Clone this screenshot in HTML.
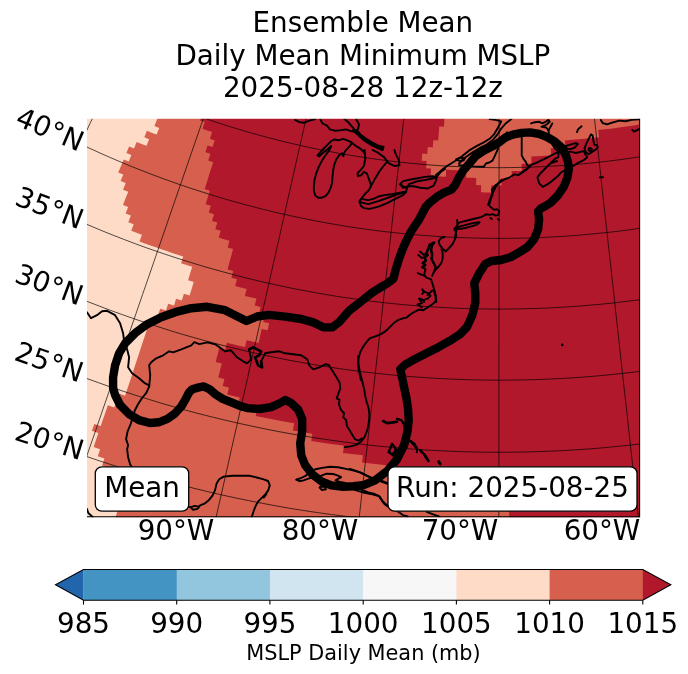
<!DOCTYPE html>
<html lang="en"><head><meta charset="utf-8"><title>Ensemble Mean Daily Mean Minimum MSLP</title>
<style>
html,body{margin:0;padding:0;background:#fff;}
body{width:688px;height:674px;overflow:hidden;}
svg{display:block;}
svg text{font-family:"DejaVu Sans","Liberation Sans",sans-serif;fill:#000;}
</style></head><body>
<svg width="688" height="674" viewBox="0 0 688 674">
<rect width="688" height="674" fill="#fff"/>
<defs><clipPath id="mapclip"><rect x="84" y="115.7" width="559" height="404.50000000000006"/></clipPath></defs>
<g clip-path="url(#mapclip)">
<rect x="85" y="116.7" width="557" height="402.50000000000006" fill="#b2182b"/>
<path d="M-129.7,440.1 -126.1,433.4 -122.5,426.7 -119.0,420.0 -115.4,413.3 -111.8,406.6 -108.3,400.0 -104.8,393.3 -101.2,386.7 -97.7,380.1 -94.2,373.6 -90.7,367.0 -87.2,360.5 -83.8,354.0 -80.3,347.4 -76.8,341.0 -73.4,334.5 -69.9,328.0 -66.5,321.6 -63.1,315.2 -59.6,308.7 -56.2,302.3 -52.8,295.9 -49.4,289.6 -46.0,283.2 -42.6,276.8 -39.2,270.5 -35.9,264.2 -32.5,257.8 -29.1,251.5 -25.8,245.2 -22.4,238.9 -19.0,232.6 -15.7,226.3 -12.3,220.0 -9.0,213.8 -5.6,207.5 -2.3,201.2 1.0,195.0 4.4,188.7 7.7,182.5 11.0,176.2 14.4,170.0 17.7,163.8 21.0,157.5 24.3,151.3 27.7,145.1 31.0,138.8 34.3,132.6 37.6,126.4 40.9,120.1 44.3,113.9 47.6,107.7 50.9,101.4 54.2,95.2 57.6,89.0 60.9,82.7 64.2,76.5 67.6,70.2 70.9,64.0 74.2,57.7 77.6,51.4 80.9,45.2 84.3,38.9 87.6,32.6 91.0,26.3 94.4,20.0 97.7,13.7 101.1,7.3 104.5,1.0 107.9,-5.3 111.3,-11.7 114.7,-18.1 118.6,-15.9 122.7,-13.9 126.7,-11.8 130.7,-9.7 134.8,-7.7 138.8,-5.7 142.9,-3.7 147.0,-1.7 151.0,0.2 155.1,2.1 159.2,4.0 163.4,5.9 167.5,7.7 171.6,9.5 175.8,11.4 179.9,13.1 184.1,14.9 188.3,16.6 192.5,18.3 196.7,20.0 200.9,21.7 205.1,23.3 202.5,30.1 199.9,36.8 204.2,38.4 201.6,45.2 206.0,46.8 203.5,53.5 201.0,60.2 205.4,61.9 202.9,68.6 200.5,75.3 205.0,76.9 202.6,83.7 200.1,90.4 204.7,92.0 202.4,98.7 200.0,105.4 204.7,107.1 202.3,113.8 200.0,120.5 204.8,122.1 202.5,128.8 207.3,130.5 212.1,132.1 209.9,138.8 214.7,140.4 212.5,147.1 207.6,145.5 205.4,152.2 210.4,153.8 208.2,160.6 213.2,162.2 211.0,168.9 208.9,175.6 206.8,182.4 204.6,189.1 209.8,190.7 207.7,197.5 205.6,204.2 210.8,205.8 208.7,212.6 214.0,214.2 212.0,220.9 217.3,222.5 215.3,229.3 220.7,230.8 218.7,237.6 224.1,239.2 229.5,240.7 227.7,247.5 233.1,249.0 231.3,255.8 229.4,262.6 227.6,269.5 233.2,271.0 231.4,277.8 237.0,279.3 235.2,286.1 240.9,287.6 246.6,289.0 244.9,295.9 250.6,297.3 256.4,298.6 254.8,305.5 260.5,306.9 259.0,313.8 264.8,315.1 263.2,322.1 269.1,323.3 267.6,330.3 261.7,329.0 260.1,336.0 258.6,342.9 252.6,341.6 246.6,340.2 245.0,347.1 239.0,345.7 233.0,344.3 227.0,342.8 225.3,349.7 219.2,348.2 217.5,355.1 215.7,362.0 221.8,363.6 220.0,370.6 218.3,377.5 224.4,379.1 222.7,386.1 228.9,387.6 227.3,394.6 233.5,396.1 239.8,397.5 238.2,404.6 244.5,406.0 250.9,407.4 257.2,408.8 255.7,415.9 262.1,417.2 268.5,418.5 274.9,419.8 281.3,421.0 287.8,422.2 294.2,423.3 292.9,430.5 299.4,431.6 305.9,432.7 312.4,433.7 311.2,440.9 317.8,441.9 324.3,442.9 330.8,443.9 337.4,444.8 343.9,445.7 343.0,452.9 349.6,453.8 356.2,454.6 362.8,455.3 362.0,462.6 368.6,463.3 375.3,464.0 381.9,464.7 388.6,465.4 395.3,465.9 394.6,473.2 401.3,473.8 408.0,474.3 414.8,474.8 414.2,482.1 421.0,482.6 427.8,483.0 434.5,483.4 441.3,483.7 448.1,484.0 454.8,484.3 454.5,491.6 461.4,491.9 468.2,492.1 475.0,492.2 481.8,492.3 488.6,492.4 488.5,499.8 495.4,499.8 502.2,499.9 509.1,499.8 509.2,507.2 509.2,514.6 509.3,522.0 509.3,529.5 509.4,537.0 509.4,544.4 509.5,552.0 509.5,559.5 509.6,567.0 509.7,574.6 509.7,582.2 509.8,589.8 509.8,597.5 509.9,605.2 509.9,612.9 510.0,620.6 510.1,628.4 510.1,636.1 510.2,644.0 510.2,651.8 510.3,659.7 510.4,667.6 510.4,675.5 510.5,683.5 502.6,683.5 494.7,683.5 486.9,683.5 479.0,683.4 471.1,683.2 463.3,683.1 455.4,682.8 447.5,682.6 439.7,682.3 431.8,681.9 423.9,681.5 416.1,681.1 408.2,680.6 400.4,680.0 392.5,679.5 384.7,678.9 376.8,678.2 369.0,677.5 361.2,676.8 353.3,676.0 345.5,675.1 337.7,674.3 329.9,673.3 322.1,672.4 314.3,671.4 306.5,670.3 298.7,669.2 290.9,668.1 283.1,666.9 275.3,665.7 267.6,664.5 259.8,663.1 252.1,661.8 244.3,660.4 236.6,659.0 228.8,657.5 221.1,656.0 213.4,654.4 205.7,652.8 198.0,651.2 190.3,649.5 182.6,647.7 175.0,646.0 167.3,644.2 159.7,642.3 152.0,640.4 144.4,638.4 136.8,636.5 129.2,634.4 121.6,632.4 114.0,630.3 106.5,628.1 98.9,625.9 91.4,623.7 83.8,621.4 76.3,619.1 68.8,616.7 61.3,614.3 53.8,611.9 46.4,609.4 38.9,606.8 31.5,604.3 24.0,601.7 16.6,599.0 9.2,596.3 1.9,593.6 -5.5,590.8 -12.9,588.0 -20.2,585.2 -27.5,582.3 -34.8,579.3 -42.1,576.4 -49.4,573.3 -56.6,570.3 -63.9,567.2 -71.1,564.1 -78.3,560.9 -85.5,557.7 -92.6,554.4 -99.8,551.1 -106.9,547.8 -114.0,544.4 -121.1,541.0 -128.2,537.5 -135.2,534.1 -142.3,530.5 -149.3,527.0 -156.3,523.3 -163.2,519.7 -170.2,516.0 -166.4,509.0 -162.7,502.0 -159.0,495.0 -155.3,488.1 -151.6,481.1 -147.9,474.2 -144.2,467.4 -140.6,460.5 -137.0,453.7 -133.3,446.9ZM421.7,160.7 422.3,153.6 427.3,154.1 427.8,147.0 432.8,147.4 433.3,140.3 438.2,140.6 438.7,133.5 439.2,126.4 443.9,126.7 444.4,119.6 444.9,112.4 445.3,105.3 445.8,98.1 446.3,90.9 446.7,83.7 442.2,83.4 442.7,76.2 447.2,76.5 451.7,76.8 456.2,77.1 460.7,77.3 465.3,77.5 469.8,77.7 474.3,77.8 478.8,78.0 483.3,78.1 487.9,78.1 492.4,78.2 496.9,78.2 501.4,78.2 506.0,78.2 510.5,78.2 515.0,78.1 519.5,78.0 524.0,77.9 528.6,77.7 533.1,77.6 537.6,77.4 542.1,77.1 546.6,76.9 551.2,76.6 555.7,76.3 560.2,76.0 564.7,75.7 569.2,75.3 573.7,74.9 578.2,74.5 582.7,74.0 587.2,73.6 591.7,73.1 596.2,72.5 600.7,72.0 605.2,71.4 609.7,70.8 614.2,70.2 618.6,69.6 623.1,68.9 627.6,68.2 632.0,67.5 636.5,66.7 641.0,66.0 645.4,65.2 649.9,64.4 654.3,63.5 655.7,70.6 657.0,77.7 658.4,84.8 659.8,91.8 661.1,98.8 662.5,105.9 663.8,112.9 665.2,119.9 666.5,126.9 661.7,127.8 660.4,120.8 655.6,121.7 650.9,122.5 646.1,123.3 641.3,124.1 636.5,124.9 631.8,125.7 627.0,126.4 622.2,127.1 617.4,127.7 612.6,128.4 607.8,129.0 603.0,129.6 598.2,130.1 599.0,137.2 594.1,137.7 589.3,138.2 584.4,138.7 579.5,139.2 574.7,139.6 569.8,140.0 564.9,140.4 565.5,147.5 560.6,147.8 555.7,148.1 550.7,148.4 551.2,155.5 546.2,155.8 541.2,156.0 536.3,156.3 531.3,156.4 531.6,163.5 526.6,163.7 521.6,163.8 521.8,170.9 516.7,171.0 511.7,171.1 511.8,178.2 506.7,178.3 501.6,178.3 501.6,185.4 496.5,185.4 491.4,185.3 491.3,192.4 486.2,192.4 481.0,192.3 481.2,185.2 476.1,185.1 476.2,178.0 471.2,177.8 466.1,177.7 466.4,170.6 461.3,170.4 456.3,170.2 451.3,169.9 446.2,169.6 445.8,176.7 440.7,176.4 435.7,176.0 430.6,175.7 431.1,168.6 426.1,168.2 426.7,161.1Z" fill="#d6604d" fill-rule="evenodd"/>
<path d="M-133.3,446.9 -129.7,440.1 -126.1,433.4 -122.5,426.7 -119.0,420.0 -115.4,413.3 -111.8,406.6 -108.3,400.0 -104.8,393.3 -101.2,386.7 -97.7,380.1 -94.2,373.6 -90.7,367.0 -87.2,360.5 -83.8,354.0 -80.3,347.4 -76.8,341.0 -73.4,334.5 -69.9,328.0 -66.5,321.6 -63.1,315.2 -59.6,308.7 -56.2,302.3 -52.8,295.9 -49.4,289.6 -46.0,283.2 -42.6,276.8 -39.2,270.5 -35.9,264.2 -32.5,257.8 -29.1,251.5 -25.8,245.2 -22.4,238.9 -19.0,232.6 -15.7,226.3 -12.3,220.0 -9.0,213.8 -5.6,207.5 -2.3,201.2 1.0,195.0 4.4,188.7 7.7,182.5 11.0,176.2 14.4,170.0 17.7,163.8 21.0,157.5 24.3,151.3 27.7,145.1 31.0,138.8 34.3,132.6 37.6,126.4 40.9,120.1 44.3,113.9 47.6,107.7 50.9,101.4 54.2,95.2 57.6,89.0 60.9,82.7 64.2,76.5 67.6,70.2 70.9,64.0 74.2,57.7 77.6,51.4 80.9,45.2 84.3,38.9 87.6,32.6 91.0,26.3 94.4,20.0 97.7,13.7 101.1,7.3 104.5,1.0 107.9,-5.3 111.3,-11.7 114.7,-18.1 118.6,-15.9 122.7,-13.9 126.7,-11.8 130.7,-9.7 134.8,-7.7 138.8,-5.7 142.9,-3.7 147.0,-1.7 151.0,0.2 155.1,2.1 159.2,4.0 156.2,10.6 160.4,12.5 157.4,19.0 154.5,25.6 158.7,27.5 155.8,34.0 160.1,35.9 157.2,42.5 154.3,49.1 158.7,51.0 155.9,57.5 160.3,59.4 157.5,66.0 154.7,72.5 159.2,74.4 156.5,81.0 153.7,87.6 158.3,89.5 155.6,96.0 160.2,97.9 157.6,104.5 154.9,111.1 159.6,113.0 157.0,119.5 154.4,126.1 159.2,128.0 156.6,134.6 151.7,132.7 146.9,130.8 144.3,137.3 149.1,139.3 146.5,145.8 141.6,143.9 136.7,141.9 134.0,148.4 129.1,146.4 126.4,152.9 131.4,154.9 128.7,161.5 123.7,159.4 121.0,165.9 118.2,172.4 123.3,174.5 120.6,181.1 125.7,183.1 123.1,189.7 128.2,191.7 125.6,198.3 123.0,204.9 128.2,206.9 125.6,213.5 130.9,215.6 128.3,222.2 133.7,224.2 131.2,230.8 136.5,232.8 141.9,234.8 139.5,241.5 144.9,243.4 150.4,245.4 155.8,247.3 161.3,249.2 166.7,251.1 172.2,252.9 177.7,254.7 183.2,256.4 181.1,263.2 186.6,264.9 192.2,266.7 190.1,273.4 188.1,280.2 193.7,281.9 191.7,288.7 189.6,295.5 183.9,293.8 181.8,300.6 176.1,298.8 174.0,305.6 168.2,303.8 166.0,310.6 160.2,308.7 158.0,315.5 155.8,322.3 150.0,320.4 147.7,327.2 145.5,334.0 143.2,340.8 141.0,347.6 138.7,354.4 136.5,361.3 134.2,368.1 132.0,375.0 129.7,381.9 127.4,388.8 125.1,395.7 118.9,393.6 116.5,400.5 114.2,407.4 107.9,405.3 105.5,412.2 103.1,419.1 100.7,426.1 94.3,423.9 91.9,430.8 98.4,433.1 96.0,440.1 93.6,447.1 100.1,449.3 97.8,456.3 104.4,458.5 102.1,465.6 108.7,467.8 115.4,469.9 113.2,477.0 119.9,479.2 117.7,486.3 115.4,493.5 113.2,500.7 120.1,502.8 117.8,510.0 115.6,517.3 113.4,524.5 120.4,526.7 118.2,534.0 116.0,541.3 113.8,548.6 120.9,550.8 118.8,558.1 116.6,565.6 114.4,573.0 112.2,580.5 119.5,582.6 117.4,590.1 115.2,597.7 113.0,605.2 120.5,607.3 118.3,614.9 116.2,622.6 114.0,630.3 106.5,628.1 98.9,625.9 91.4,623.7 83.8,621.4 76.3,619.1 68.8,616.7 61.3,614.3 53.8,611.9 46.4,609.4 38.9,606.8 31.5,604.3 24.0,601.7 16.6,599.0 9.2,596.3 1.9,593.6 -5.5,590.8 -12.9,588.0 -20.2,585.2 -27.5,582.3 -34.8,579.3 -42.1,576.4 -49.4,573.3 -56.6,570.3 -63.9,567.2 -71.1,564.1 -78.3,560.9 -85.5,557.7 -92.6,554.4 -99.8,551.1 -106.9,547.8 -114.0,544.4 -121.1,541.0 -128.2,537.5 -135.2,534.1 -142.3,530.5 -149.3,527.0 -156.3,523.3 -163.2,519.7 -170.2,516.0 -166.4,509.0 -162.7,502.0 -159.0,495.0 -155.3,488.1 -151.6,481.1 -147.9,474.2 -144.2,467.4 -140.6,460.5 -137.0,453.7Z" fill="#fddbc7" fill-rule="evenodd"/>

<g fill="none" stroke="#000" stroke-opacity="0.68" stroke-width="1.0">
<path d="M-143.6,616.1 L-133.6,595.0 L-123.8,574.2 L-114.0,553.6 L-104.4,533.3 L-94.8,513.2 L-85.4,493.3 L-76.1,473.6 L-66.8,454.2 L-57.7,434.8 L-48.6,415.7 L-39.6,396.7 L-30.6,377.8 L-21.7,359.1 L-12.9,340.5 L-4.1,322.0 L4.6,303.6 L13.3,285.3 L21.9,267.1 L30.6,248.9 L39.1,230.8 L47.7,212.7 L56.3,194.7 L64.8,176.6 L73.4,158.7 L81.9,140.7 L90.4,122.7 L99.0,104.6 L107.5,86.6 L116.1,68.5 L124.7,50.4 L133.4,32.1 L142.1,13.8 L150.8,-4.5 L159.6,-23.0 L168.4,-41.7 L177.3,-60.4 L186.3,-79.4 L195.3,-98.5 L204.5,-117.8"/>
<path d="M9.9,678.8 L17.5,656.7 L25.0,634.9 L32.5,613.4 L39.8,592.2 L47.1,571.1 L54.2,550.4 L61.3,529.8 L68.4,509.4 L75.4,489.2 L82.3,469.1 L89.1,449.3 L96.0,429.5 L102.7,409.9 L109.4,390.5 L116.1,371.1 L122.8,351.9 L129.4,332.7 L136.0,313.6 L142.5,294.6 L149.1,275.7 L155.6,256.8 L162.1,237.9 L168.6,219.0 L175.1,200.2 L181.6,181.4 L188.1,162.6 L194.6,143.7 L201.2,124.8 L207.7,105.9 L214.2,86.9 L220.8,67.9 L227.4,48.7 L234.1,29.5 L240.8,10.1 L247.5,-9.4 L254.3,-29.0 L261.1,-48.8 L268.0,-68.8 L275.0,-89.0"/>
<path d="M169.4,724.2 L174.6,701.4 L179.6,678.9 L184.7,656.7 L189.6,634.8 L194.5,613.1 L199.3,591.6 L204.1,570.4 L208.9,549.3 L213.6,528.5 L218.2,507.8 L222.9,487.3 L227.5,467.0 L232.0,446.7 L236.6,426.6 L241.1,406.7 L245.6,386.8 L250.0,367.0 L254.5,347.3 L258.9,327.7 L263.3,308.2 L267.7,288.6 L272.1,269.2 L276.5,249.7 L280.9,230.3 L285.2,210.9 L289.6,191.4 L294.0,172.0 L298.4,152.5 L302.8,133.0 L307.2,113.4 L311.7,93.7 L316.1,73.9 L320.6,54.1 L325.1,34.1 L329.7,14.0 L334.2,-6.2 L338.8,-26.7 L343.5,-47.3 L348.2,-68.1"/>
<path d="M333.0,751.7 L335.6,728.5 L338.2,705.6 L340.7,683.0 L343.2,660.6 L345.7,638.5 L348.1,616.7 L350.5,595.0 L352.9,573.6 L355.3,552.3 L357.6,531.3 L360.0,510.4 L362.3,489.6 L364.6,469.0 L366.9,448.6 L369.2,428.2 L371.4,408.0 L373.7,387.8 L375.9,367.8 L378.2,347.8 L380.4,327.9 L382.6,308.0 L384.8,288.1 L387.1,268.3 L389.3,248.5 L391.5,228.7 L393.7,208.9 L395.9,189.1 L398.1,169.3 L400.4,149.4 L402.6,129.4 L404.8,109.4 L407.1,89.2 L409.3,69.0 L411.6,48.7 L413.9,28.2 L416.2,7.5 L418.5,-13.3 L420.9,-34.3 L423.3,-55.5"/>
<path d="M498.6,761.0 L498.6,737.6 L498.6,714.6 L498.7,691.8 L498.7,669.3 L498.7,647.1 L498.7,625.1 L498.7,603.3 L498.8,581.8 L498.8,560.4 L498.8,539.2 L498.8,518.2 L498.8,497.3 L498.8,476.6 L498.9,456.0 L498.9,435.5 L498.9,415.1 L498.9,394.9 L498.9,374.7 L498.9,354.6 L499.0,334.5 L499.0,314.5 L499.0,294.5 L499.0,274.6 L499.0,254.7 L499.0,234.8 L499.1,214.9 L499.1,194.9 L499.1,174.9 L499.1,154.9 L499.1,134.8 L499.1,114.7 L499.2,94.4 L499.2,74.1 L499.2,53.6 L499.2,33.0 L499.2,12.2 L499.2,-8.7 L499.3,-29.9 L499.3,-51.2"/>
<path d="M664.2,751.9 L661.7,728.7 L659.1,705.8 L656.7,683.2 L654.2,660.9 L651.8,638.8 L649.3,616.9 L647.0,595.3 L644.6,573.8 L642.3,552.6 L639.9,531.5 L637.6,510.6 L635.4,489.9 L633.1,469.3 L630.8,448.8 L628.6,428.4 L626.4,408.2 L624.1,388.0 L621.9,368.0 L619.7,348.0 L617.5,328.0 L615.3,308.2 L613.2,288.3 L611.0,268.5 L608.8,248.7 L606.6,228.9 L604.4,209.1 L602.2,189.3 L600.1,169.4 L597.9,149.5 L595.7,129.6 L593.5,109.5 L591.2,89.4 L589.0,69.2 L586.8,48.8 L584.5,28.3 L582.2,7.7 L579.9,-13.1 L577.6,-34.2 L575.3,-55.4"/>
<path d="M827.8,724.7 L822.7,701.9 L817.7,679.4 L812.7,657.2 L807.8,635.3 L803.0,613.6 L798.2,592.1 L793.4,570.9 L788.7,549.8 L784.0,529.0 L779.4,508.3 L774.8,487.8 L770.2,467.4 L765.7,447.2 L761.2,427.1 L756.7,407.1 L752.3,387.2 L747.8,367.4 L743.4,347.7 L739.0,328.1 L734.7,308.5 L730.3,289.0 L725.9,269.5 L721.6,250.1 L717.2,230.7 L712.9,211.2 L708.5,191.8 L704.2,172.3 L699.8,152.8 L695.4,133.3 L691.0,113.7 L686.6,94.0 L682.2,74.3 L677.8,54.4 L673.3,34.4 L668.8,14.3 L664.3,-6.0 L659.7,-26.4 L655.1,-47.0 L650.4,-67.9"/>
<path d="M-246.5,467.5 L-233.1,475.7 L-219.7,483.7 L-206.1,491.6 L-192.4,499.3 L-178.7,506.9 L-164.8,514.3 L-150.9,521.6 L-137.0,528.7 L-122.9,535.7 L-108.7,542.5 L-94.5,549.1 L-80.2,555.6 L-65.9,562.0 L-51.4,568.1 L-37.0,574.2 L-22.4,580.0 L-7.8,585.7 L6.9,591.2 L21.7,596.6 L36.5,601.8 L51.3,606.8 L66.3,611.7 L81.2,616.4 L96.3,621.0 L111.3,625.3 L126.4,629.6 L141.6,633.6 L156.8,637.5 L172.1,641.2 L187.4,644.7 L202.7,648.1 L218.1,651.3 L233.5,654.3 L248.9,657.2 L264.3,659.9 L279.8,662.4 L295.4,664.7 L310.9,666.9 L326.5,668.9 L342.1,670.7 L357.7,672.4 L373.3,673.9 L388.9,675.2 L404.6,676.3 L420.2,677.3 L435.9,678.1 L451.6,678.7 L467.3,679.2 L483.0,679.4 L498.7,679.5 L514.4,679.5 L530.1,679.2 L545.7,678.8 L561.4,678.2 L577.1,677.4 L592.8,676.5 L608.4,675.4 L624.1,674.1 L639.7,672.6 L655.3,671.0 L670.9,669.2 L686.5,667.2 L702.0,665.1 L717.5,662.8 L733.0,660.3 L748.5,657.6 L763.9,654.8 L779.3,651.8 L794.7,648.6 L810.0,645.2 L825.3,641.7 L840.6,638.0 L855.8,634.2 L871.0,630.2 L886.1,626.0 L901.2,621.6 L916.2,617.1 L931.2,612.4 L946.1,607.6 L961.0,602.6"/>
<path d="M-205.4,401.0 L-192.8,408.8 L-180.0,416.3 L-167.2,423.8 L-154.3,431.1 L-141.3,438.2 L-128.3,445.3 L-115.1,452.1 L-101.9,458.9 L-88.6,465.4 L-75.2,471.9 L-61.8,478.1 L-48.3,484.3 L-34.7,490.3 L-21.1,496.1 L-7.4,501.8 L6.4,507.3 L20.2,512.7 L34.1,517.9 L48.0,523.0 L62.0,527.9 L76.0,532.7 L90.1,537.3 L104.3,541.7 L118.5,546.0 L132.7,550.2 L147.0,554.1 L161.3,558.0 L175.7,561.6 L190.1,565.1 L204.6,568.5 L219.0,571.7 L233.6,574.7 L248.1,577.5 L262.7,580.2 L277.3,582.8 L292.0,585.2 L306.6,587.4 L321.3,589.4 L336.0,591.3 L350.7,593.1 L365.5,594.6 L380.3,596.0 L395.0,597.3 L409.8,598.3 L424.6,599.3 L439.4,600.0 L454.3,600.6 L469.1,601.0 L483.9,601.3 L498.7,601.4 L513.6,601.3 L528.4,601.1 L543.2,600.7 L558.0,600.1 L572.9,599.4 L587.7,598.5 L602.4,597.4 L617.2,596.2 L632.0,594.8 L646.7,593.3 L661.5,591.6 L676.2,589.7 L690.9,587.7 L705.5,585.5 L720.2,583.1 L734.8,580.6 L749.4,578.0 L763.9,575.1 L778.5,572.1 L793.0,569.0 L807.4,565.6 L821.8,562.2 L836.2,558.5 L850.5,554.7 L864.8,550.8 L879.1,546.7 L893.3,542.4 L907.4,538.0 L921.5,533.4 L935.6,528.6"/>
<path d="M-165.7,336.7 L-153.8,344.0 L-141.7,351.2 L-129.6,358.2 L-117.5,365.1 L-105.2,371.9 L-92.9,378.5 L-80.5,385.0 L-68.0,391.3 L-55.5,397.5 L-42.8,403.6 L-30.2,409.5 L-17.4,415.3 L-4.6,421.0 L8.2,426.5 L21.2,431.8 L34.2,437.0 L47.2,442.1 L60.3,447.0 L73.4,451.8 L86.7,456.5 L99.9,461.0 L113.2,465.3 L126.6,469.5 L140.0,473.6 L153.4,477.5 L166.9,481.2 L180.4,484.8 L194.0,488.3 L207.6,491.6 L221.2,494.8 L234.9,497.8 L248.6,500.6 L262.3,503.3 L276.1,505.9 L289.8,508.3 L303.7,510.5 L317.5,512.6 L331.4,514.5 L345.2,516.3 L359.1,518.0 L373.1,519.4 L387.0,520.8 L400.9,521.9 L414.9,522.9 L428.9,523.8 L442.8,524.5 L456.8,525.1 L470.8,525.5 L484.8,525.7 L498.8,525.8 L512.8,525.7 L526.8,525.5 L540.8,525.1 L554.8,524.6 L568.7,523.9 L582.7,523.1 L596.7,522.1 L610.6,520.9 L624.6,519.6 L638.5,518.2 L652.4,516.6 L666.3,514.8 L680.1,512.9 L694.0,510.8 L707.8,508.6 L721.6,506.2 L735.3,503.7 L749.1,501.0 L762.8,498.2 L776.5,495.2 L790.1,492.1 L803.7,488.8 L817.3,485.4 L830.8,481.8 L844.3,478.0 L857.7,474.2 L871.1,470.1 L884.5,466.0 L897.8,461.6 L911.1,457.2"/>
<path d="M-127.1,274.2 L-115.8,281.0 L-104.5,287.8 L-93.1,294.4 L-81.6,300.9 L-70.1,307.3 L-58.4,313.5 L-46.8,319.6 L-35.0,325.6 L-23.2,331.4 L-11.3,337.1 L0.6,342.7 L12.6,348.2 L24.7,353.5 L36.8,358.7 L49.0,363.7 L61.2,368.6 L73.5,373.4 L85.8,378.1 L98.2,382.6 L110.7,387.0 L123.1,391.2 L135.7,395.3 L148.2,399.2 L160.9,403.1 L173.5,406.7 L186.2,410.3 L199.0,413.7 L211.7,416.9 L224.5,420.0 L237.4,423.0 L250.3,425.8 L263.2,428.5 L276.1,431.1 L289.1,433.5 L302.0,435.7 L315.1,437.8 L328.1,439.8 L341.1,441.6 L354.2,443.3 L367.3,444.9 L380.4,446.3 L393.5,447.5 L406.7,448.6 L419.8,449.6 L433.0,450.4 L446.1,451.0 L459.3,451.6 L472.5,451.9 L485.7,452.2 L498.9,452.2 L512.0,452.2 L525.2,452.0 L538.4,451.6 L551.6,451.1 L564.7,450.5 L577.9,449.7 L591.0,448.8 L604.2,447.7 L617.3,446.4 L630.4,445.1 L643.5,443.6 L656.6,441.9 L669.6,440.1 L682.7,438.1 L695.7,436.1 L708.7,433.8 L721.7,431.4 L734.6,428.9 L747.5,426.2 L760.4,423.4 L773.2,420.5 L786.0,417.4 L798.8,414.2 L811.6,410.8 L824.3,407.3 L836.9,403.6 L849.6,399.8 L862.1,395.9 L874.7,391.8 L887.2,387.6"/>
<path d="M-89.2,212.9 L-78.6,219.3 L-68.0,225.7 L-57.2,231.9 L-46.5,238.0 L-35.6,243.9 L-24.7,249.8 L-13.7,255.5 L-2.7,261.2 L8.4,266.7 L19.6,272.0 L30.8,277.3 L42.1,282.4 L53.4,287.4 L64.8,292.3 L76.2,297.0 L87.7,301.6 L99.3,306.1 L110.9,310.5 L122.5,314.7 L134.2,318.8 L145.9,322.8 L157.7,326.6 L169.5,330.4 L181.3,334.0 L193.2,337.4 L205.2,340.7 L217.1,343.9 L229.1,347.0 L241.2,349.9 L253.2,352.7 L265.3,355.4 L277.5,357.9 L289.6,360.3 L301.8,362.5 L314.0,364.7 L326.2,366.6 L338.5,368.5 L350.7,370.2 L363.0,371.8 L375.3,373.2 L387.6,374.5 L400.0,375.7 L412.3,376.7 L424.7,377.6 L437.0,378.4 L449.4,379.0 L461.8,379.5 L474.2,379.9 L486.5,380.1 L498.9,380.2 L511.3,380.1 L523.7,379.9 L536.1,379.6 L548.4,379.1 L560.8,378.5 L573.2,377.8 L585.5,376.9 L597.9,375.9 L610.2,374.7 L622.5,373.4 L634.8,372.0 L647.1,370.5 L659.4,368.8 L671.6,366.9 L683.9,365.0 L696.1,362.9 L708.3,360.6 L720.4,358.3 L732.5,355.7 L744.6,353.1 L756.7,350.3 L768.8,347.4 L780.8,344.4 L792.7,341.2 L804.7,337.9 L816.6,334.5 L828.4,330.9 L840.2,327.2 L852.0,323.4 L863.8,319.4"/>
<path d="M-51.8,152.4 L-41.9,158.4 L-31.9,164.3 L-21.9,170.2 L-11.8,175.9 L-1.6,181.5 L8.6,187.0 L18.9,192.3 L29.2,197.6 L39.6,202.7 L50.1,207.8 L60.6,212.7 L71.1,217.5 L81.7,222.2 L92.4,226.7 L103.1,231.2 L113.9,235.5 L124.7,239.7 L135.5,243.8 L146.4,247.8 L157.4,251.6 L168.4,255.3 L179.4,258.9 L190.5,262.4 L201.6,265.8 L212.7,269.0 L223.9,272.1 L235.1,275.1 L246.3,278.0 L257.6,280.7 L268.9,283.3 L280.2,285.8 L291.6,288.2 L303.0,290.4 L314.4,292.5 L325.8,294.5 L337.2,296.4 L348.7,298.1 L360.2,299.7 L371.7,301.2 L383.2,302.6 L394.8,303.8 L406.3,304.9 L417.9,305.9 L429.4,306.7 L441.0,307.4 L452.6,308.0 L464.2,308.5 L475.8,308.8 L487.4,309.0 L499.0,309.1 L510.6,309.0 L522.2,308.8 L533.8,308.5 L545.4,308.1 L556.9,307.5 L568.5,306.8 L580.1,306.0 L591.7,305.0 L603.2,304.0 L614.7,302.8 L626.3,301.4 L637.8,300.0 L649.3,298.4 L660.7,296.7 L672.2,294.8 L683.6,292.8 L695.0,290.7 L706.4,288.5 L717.8,286.2 L729.1,283.7 L740.4,281.1 L751.7,278.4 L762.9,275.5 L774.1,272.6 L785.3,269.5 L796.5,266.3 L807.6,262.9 L818.6,259.5 L829.7,255.9 L840.7,252.2"/>
<path d="M-14.6,92.3 L-5.4,97.9 L3.9,103.4 L13.2,108.9 L22.7,114.2 L32.1,119.4 L41.7,124.5 L51.3,129.5 L60.9,134.4 L70.6,139.2 L80.3,143.9 L90.1,148.5 L100.0,153.0 L109.9,157.4 L119.8,161.6 L129.8,165.8 L139.9,169.8 L149.9,173.7 L160.1,177.5 L170.2,181.2 L180.4,184.8 L190.7,188.3 L201.0,191.6 L211.3,194.9 L221.6,198.0 L232.0,201.0 L242.5,203.9 L252.9,206.7 L263.4,209.4 L273.9,212.0 L284.4,214.4 L295.0,216.7 L305.6,218.9 L316.2,221.0 L326.9,223.0 L337.5,224.8 L348.2,226.6 L358.9,228.2 L369.6,229.7 L380.3,231.1 L391.1,232.3 L401.8,233.5 L412.6,234.5 L423.4,235.4 L434.2,236.2 L445.0,236.9 L455.8,237.4 L466.6,237.8 L477.4,238.1 L488.2,238.3 L499.0,238.4 L509.9,238.3 L520.7,238.2 L531.5,237.9 L542.3,237.5 L553.1,236.9 L563.9,236.3 L574.7,235.5 L585.5,234.6 L596.2,233.6 L607.0,232.5 L617.8,231.3 L628.5,229.9 L639.2,228.4 L649.9,226.8 L660.6,225.1 L671.2,223.3 L681.9,221.3 L692.5,219.2 L703.1,217.1 L713.7,214.8 L724.2,212.3 L734.7,209.8 L745.2,207.1 L755.7,204.4 L766.1,201.5 L776.5,198.5 L786.9,195.4 L797.2,192.1 L807.5,188.8 L817.7,185.3"/>
<path d="M22.5,32.1 L31.1,37.3 L39.7,42.4 L48.4,47.5 L57.2,52.4 L65.9,57.3 L74.8,62.0 L83.7,66.7 L92.6,71.2 L101.6,75.7 L110.7,80.0 L119.8,84.3 L128.9,88.4 L138.1,92.5 L147.3,96.4 L156.6,100.3 L165.9,104.0 L175.2,107.6 L184.6,111.2 L194.1,114.6 L203.5,117.9 L213.0,121.2 L222.6,124.3 L232.2,127.3 L241.8,130.2 L251.4,133.0 L261.1,135.7 L270.8,138.3 L280.5,140.8 L290.2,143.1 L300.0,145.4 L309.8,147.5 L319.6,149.6 L329.5,151.5 L339.4,153.4 L349.2,155.1 L359.2,156.7 L369.1,158.2 L379.0,159.6 L389.0,160.9 L398.9,162.0 L408.9,163.1 L418.9,164.0 L428.9,164.9 L438.9,165.6 L448.9,166.2 L459.0,166.7 L469.0,167.1 L479.0,167.4 L489.1,167.6 L499.1,167.7 L509.1,167.6 L519.2,167.4 L529.2,167.2 L539.2,166.8 L549.3,166.3 L559.3,165.7 L569.3,165.0 L579.3,164.2 L589.3,163.2 L599.3,162.2 L609.2,161.0 L619.2,159.8 L629.1,158.4 L639.1,156.9 L649.0,155.3 L658.9,153.6 L668.7,151.8 L678.6,149.9 L688.4,147.9 L698.2,145.7 L708.0,143.5 L717.7,141.1 L727.5,138.7 L737.2,136.1 L746.9,133.4 L756.5,130.6 L766.1,127.7 L775.7,124.7 L785.2,121.6 L794.7,118.4"/>
<path d="M60.1,-28.7 L68.0,-23.8 L75.9,-19.1 L83.9,-14.5 L92.0,-9.9 L100.1,-5.4 L108.2,-1.1 L116.4,3.2 L124.6,7.4 L132.9,11.5 L141.3,15.5 L149.6,19.4 L158.1,23.3 L166.5,27.0 L175.0,30.6 L183.6,34.2 L192.1,37.6 L200.8,41.0 L209.4,44.2 L218.1,47.4 L226.8,50.5 L235.6,53.4 L244.4,56.3 L253.2,59.1 L262.1,61.8 L270.9,64.3 L279.8,66.8 L288.8,69.2 L297.7,71.5 L306.7,73.7 L315.7,75.7 L324.8,77.7 L333.8,79.6 L342.9,81.4 L352.0,83.1 L361.1,84.7 L370.2,86.2 L379.4,87.5 L388.5,88.8 L397.7,90.0 L406.9,91.1 L416.1,92.1 L425.3,92.9 L434.5,93.7 L443.7,94.4 L452.9,94.9 L462.2,95.4 L471.4,95.8 L480.7,96.0 L489.9,96.2 L499.2,96.3 L508.4,96.2 L517.6,96.1 L526.9,95.8 L536.1,95.5 L545.4,95.0 L554.6,94.5 L563.8,93.8 L573.0,93.1 L582.2,92.2 L591.4,91.2 L600.6,90.2 L609.8,89.0 L619.0,87.7 L628.1,86.4 L637.2,84.9 L646.4,83.3 L655.4,81.7 L664.5,79.9 L673.6,78.0 L682.6,76.1 L691.6,74.0 L700.6,71.8 L709.6,69.5 L718.5,67.2 L727.4,64.7 L736.3,62.1 L745.2,59.5 L754.0,56.7 L762.8,53.9 L771.6,50.9"/>

</g>
<g fill="none" stroke="#000" stroke-width="1.9" stroke-linejoin="round" stroke-linecap="round">
<path d="M351.7,142.4 347.3,140.3 343.0,138.8 338.6,140.3 334.2,139.5 331.3,141.0 327.7,144.6 323.3,149.0 319.7,153.0 317.5,155.5 319.0,156.5 322.6,153.3 327.0,149.7 331.3,146.1 329.2,150.4 324.8,156.2 321.2,162.1 318.3,167.9 316.1,173.7 314.6,179.5 313.9,185.3 313.9,191.1 315.3,195.5 318.3,197.7 321.9,197.7 325.5,196.2 328.4,192.6 330.6,188.2 332.1,182.4 332.5,176.6 333.1,170.8 334.2,165.0 336.4,159.2 339.3,155.1 342.2,153.3 343.3,156.2 344.4,152.6 345.9,150.1 348.8,147.2 351.0,144.6Z"/>
<path d="M353.1,130.1 359.0,135.9 364.8,141.0 370.6,144.6 376.4,147.5 382.2,150.1 383.7,146.8 377.8,145.3 372.0,142.4 366.2,138.8 360.4,134.4 357.5,130.8 353.1,130.1Z"/>
<path d="M295.0,119.9 299.4,122.1 303.7,122.8 309.5,120.6 315.3,119.2"/>
<path d="M320.4,119.6 322.6,123.5 327.0,125.7 329.9,129.4 335.7,130.8 341.5,130.1 345.9,129.4 350.2,130.8 353.1,131.5 356.0,131.5 358.2,128.6 359.0,124.3 356.0,119.0"/>
<path d="M344.4,119.0 348.8,122.8 353.1,127.9 355.3,130.8"/>
<path d="M352.4,143.2 356.0,146.1 359.7,148.2 363.3,151.2 364.8,154.1"/>
<path d="M364.6,150.0 365.3,158.7 363.9,166.0 360.3,170.3 357.4,173.3 358.1,176.2 361.0,175.4 363.9,171.8 366.8,173.3 369.0,179.1 371.2,185.6 374.8,179.1 379.2,171.8 383.5,166.0 387.2,161.6 384.2,157.3 388.6,163.1 394.4,166.0 399.5,165.3 398.8,160.2 395.9,154.4 394.4,150.0"/>
<path d="M372.6,150.0 378.4,152.9 384.2,157.3"/>
<path d="M371.2,185.6 369.0,190.0 365.3,193.6 361.7,198.0 359.5,201.6"/>
<path d="M359.5,201.6 361.0,206.0 363.9,208.1 369.7,208.9 378.4,206.7 387.2,203.1 395.9,198.7 403.1,195.1 406.0,192.2 403.9,191.9 398.8,192.9 391.5,194.3 384.2,195.1 378.4,196.5 374.1,198.7 368.3,200.1 363.9,199.4 361.7,198.0Z"/>
<path d="M361.0,202.3 368.3,204.1 378.4,201.2 388.6,197.5 397.3,194.3 405.3,192.4"/>
<path d="M406.0,192.2 406.8,188.5 400.2,184.4"/>
<path d="M400.2,184.2 403.1,181.2 409.0,179.8 417.7,178.3 424.9,176.9 432.2,176.2 436.6,176.9 435.8,181.2 433.7,185.6 427.8,188.5 420.6,187.8 413.3,186.3 407.5,186.3 403.1,187.8Z"/>
<path d="M406.8,188.5 409.0,184.2 417.7,181.2 426.4,179.8 433.7,178.3 436.6,176.9"/>
<path d="M436.6,176.9 440.9,171.8 445.0,168.9"/>
<path d="M436.5,179.8 435.8,175.1 441.6,170.1 447.4,165.7 454.7,161.3 462.0,156.2 469.2,150.4 476.5,146.1 483.8,142.4 489.6,138.8 494.0,134.4 496.9,129.4 499.8,124.3 501.2,121.4 495.4,119.9 489.6,119.0"/>
<path d="M459.1,163.5 464.9,157.7 472.2,152.6 479.4,148.2 486.7,144.6 492.5,140.3 496.9,135.2 501.2,128.6 505.6,123.5 511.4,119.0"/>
<path d="M456.2,159.2 460.5,157.7 464.9,158.4 463.4,160.6 458.3,160.6Z"/>
<path d="M459.1,165.3 473.6,166.4 483.8,166.7 486.0,163.5 489.6,162.3 492.5,160.6 494.7,156.2 497.6,149.7 499.0,144.6 502.7,138.8 505.6,134.4 507.0,132.3 509.2,133.3"/>
<path d="M488.1,204.9 489.6,199.8 492.5,195.5 491.8,189.7 495.4,185.3 499.8,182.4 504.1,179.5 509.9,177.3 514.3,174.4 518.7,175.1 523.0,171.5 527.4,168.6 530.0,166.4"/>
<path d="M521.7,134.4 521.7,155.4 523.5,158.9 525.8,161.8 527.0,164.7 528.7,166.4"/>
<path d="M520.0,174.0 523.5,171.7 527.0,169.3 528.7,166.4 531.6,164.7 536.3,162.9 540.9,160.6 545.6,158.3 550.2,156.0 553.7,154.2 558.4,151.9 554.9,148.4 552.6,144.9 550.8,140.3 549.1,135.6 548.5,130.4 546.2,127.5 541.5,126.9 544.4,125.7 547.3,124.0 549.7,121.7 548.5,119.9 545.0,122.2 542.1,123.4 539.2,121.7 535.1,122.2 531.0,123.4"/>
<path d="M548.5,130.4 550.8,126.3 552.3,123.4"/>
<path d="M537.4,177.5 539.2,183.3 542.7,186.8 547.3,184.4 551.4,181.5 554.9,178.6 558.4,175.7 560.7,172.8 564.2,170.5 568.8,168.2 573.5,165.8 578.1,162.9 582.8,160.6 586.9,157.7 586.9,156.3 585.1,154.2 584.0,151.0 580.5,151.9 575.8,153.0 571.2,151.9 566.5,151.9 561.9,153.0 558.4,151.9 558.4,157.1 554.9,158.9 551.4,162.3 553.7,161.8 557.2,161.2 553.7,162.1 550.2,163.5 546.7,167.0 543.3,170.5 539.8,174.0Z"/>
<path d="M565.9,145.8 571.2,144.3 575.8,143.2 577.8,144.0 574.7,147.5 570.0,149.3 566.5,148.4Z"/>
<path d="M590.9,134.4 588.6,139.1 586.3,143.7 584.5,148.4 585.7,151.9 588.6,154.2 592.1,151.9 595.6,149.6 597.9,147.2 596.7,144.9 594.4,144.9 593.3,140.3 592.7,135.6Z"/>
<path d="M588.6,148.6 590.3,147.8 592.1,149.6 590.3,151.0 588.8,150.5Z"/>
<path d="M577.0,132.1 578.1,129.2 581.6,126.3"/>
<path d="M501.4,180.0 498.5,182.9 495.6,187.3 493.4,191.6 491.2,196.0 490.5,200.3 489.0,205.4 491.2,207.6 494.1,209.8 497.0,209.1 499.2,211.2 498.5,214.9 495.6,215.6 492.7,214.2 489.8,214.9 486.1,214.2 484.0,215.6 481.0,217.1 475.2,218.5 469.4,220.0 463.6,221.4 458.5,222.9 456.3,226.5 454.2,229.4 455.6,230.9 456.3,235.2 455.6,238.1"/>
<path d="M457.1,220.0 457.5,223.6"/>
<path d="M457.1,227.2 462.2,225.8 468.0,224.3 473.8,222.9 479.6,222.2 477.4,224.3 472.3,226.2 466.5,227.7 461.4,228.7 457.1,228.7Z"/>
<path d="M490.5,218.1 491.9,219.0"/>
<path d="M497.8,219.0 499.2,219.8"/>
<path d="M456.6,230.0 455.5,234.7 454.9,239.3 452.6,244.0 449.1,248.0 445.6,251.5 442.7,248.6 439.8,245.1 438.6,241.6 440.9,238.1 444.4,237.0"/>
<path d="M441.5,249.2 442.7,253.3 442.7,257.9 441.5,262.6 439.2,266.0 435.7,269.5 433.4,273.0 432.2,275.9 434.0,271.3 435.7,267.2 434.0,263.7 431.6,259.1 432.2,254.4 431.0,249.8 432.2,245.1 434.5,242.8 434.0,242.2 429.9,244.5 428.1,249.2 426.4,253.3 427.6,255.0 424.7,257.3 425.8,260.8 422.9,263.1 425.2,264.9 422.3,267.2 425.5,269.0 424.1,275.3 426.4,277.7 429.9,278.8 431.0,279.4 432.8,284.7 434.5,290.5 435.7,296.3 436.3,302.0"/>
<path d="M418.3,255.0 421.7,257.9 424.7,257.3"/>
<path d="M420.0,251.5 424.1,255.0 426.4,253.3"/>
<path d="M417.7,273.0 421.7,274.8 425.2,275.9"/>
<path d="M422.3,289.3 424.1,291.6 422.3,294.0"/>
<path d="M427.6,295.1 429.9,292.8 432.2,290.5"/>
<path d="M419.4,298.6 422.9,299.8 424.1,302.0"/>
<path d="M433.5,290.0 435.7,295.8 435.7,301.6 432.0,304.5 427.7,307.4 423.3,310.3 419.0,309.6 414.6,311.8 411.0,314.0 406.6,317.6 403.0,318.3 398.6,319.8 394.2,322.7 390.6,326.3 387.7,329.2 384.1,332.2 380.4,334.3 376.8,335.8 373.2,337.2 370.3,338.0 368.1,340.1 365.2,343.8 362.3,348.1 360.1,352.5 358.6,358.3 358.2,364.1 358.6,369.9 360.1,375.8 360.8,380.0"/>
<path d="M423.3,291.5 427.7,292.9 430.6,295.8 427.7,298.7 423.3,300.2 419.0,298.7 421.9,303.1 417.5,304.5 421.9,307.4"/>
<path d="M358.1,356.3 358.1,360.6 358.5,365.0 360.0,372.3 362.2,381.0 364.3,389.7 365.1,395.5 366.5,401.3 368.7,408.6 369.4,415.9 368.7,423.1 367.2,430.4 364.3,437.7 360.7,442.0 356.3,444.9 350.5,446.4 344.7,447.1"/>
<path d="M328.7,365.0 332.4,370.8 336.0,376.6 339.6,382.4 340.3,388.3 338.2,394.1 336.7,398.4 339.6,399.9 338.9,404.2 341.1,410.1 344.0,413.0 343.3,417.3 346.2,420.2 346.9,426.0 349.8,430.4 352.7,435.5 354.9,439.1 358.5,440.6 362.2,438.4"/>
<path d="M383.2,421.0 386.9,423.1 392.7,422.4 397.0,421.7"/>
<path d="M397.0,418.8 401.4,420.2 404.3,424.6 405.0,429.0"/>
<path d="M391.9,443.5 389.8,449.3 388.3,452.2 391.9,454.4 395.6,450.8 394.1,446.4Z"/>
<path d="M410.1,440.6 414.5,443.5 417.4,449.3 416.7,452.2"/>
<path d="M225.0,351.3 231.0,350.3 237.0,357.3 243.1,361.3 247.1,363.3 251.1,359.3 249.1,349.3 253.1,347.3 261.1,351.3 259.1,355.3 255.1,357.3 258.1,365.3 262.1,367.3 261.1,361.3 265.1,353.3 271.1,352.3 279.2,351.3 285.2,353.3 293.2,354.3 301.2,355.3 307.2,359.3 309.2,365.3 313.2,369.3 319.3,367.3 325.3,364.3 328.7,365.0"/>
<path d="M149.2,386.4 150.2,375.3 149.2,365.3 151.2,362.3 156.2,358.3 163.2,355.3 169.2,351.3 173.2,352.3 181.3,349.3 191.3,345.3 194.3,342.2 199.3,344.2 207.3,342.3 215.3,344.3 225.0,351.3"/>
<path d="M87.0,312.2 91.0,318.2 97.0,315.2 102.0,311.2 107.1,310.8 115.1,315.2 120.1,323.2 123.1,333.2 124.1,341.2 127.1,349.3 129.1,357.3 128.1,367.3 132.1,373.3 139.1,378.3 145.2,383.4 149.2,385.4"/>
<path d="M149.2,386.4 146.3,392.8 142.1,398.0 138.0,404.3 134.8,410.5 130.7,424.0 127.6,431.3 126.1,439.1 128.1,445.2 127.1,449.2 128.1,457.2 130.1,464.2 135.0,472.0 145.0,485.0 160.0,497.0 175.0,503.0 180.0,503.7"/>
<path d="M180.0,503.7 185.2,505.9 190.5,507.2 193.1,509.8 197.4,508.9 200.1,505.4 204.4,503.7 208.8,500.2 212.3,495.8 214.9,490.6 216.6,483.6 219.2,479.2 223.6,476.6 232.3,475.8 241.1,475.8 249.8,475.8 256.7,477.5 262.9,479.2 268.1,481.0 269.8,485.4 268.1,490.6 265.5,494.1 262.0,497.6 258.5,501.1 255.9,505.4 254.1,509.8 252.4,515.0 251.5,517.6"/>
<path d="M190.8,507.2 194.8,505.9 198.8,506.6"/>
<path d="M263.7,497.6 266.3,494.1"/>
<path d="M296.4,479.6 301.2,478.0 306.0,475.6 310.8,471.6 315.6,469.2 322.0,467.9 330.0,466.8 338.0,467.3 346.0,468.9 353.9,470.5 360.3,472.4 365.1,474.8 369.9,477.2 376.3,479.6 382.7,482.0 389.1,484.4"/>
<path d="M296.4,479.6 299.6,481.2 303.6,480.4 307.6,478.8 312.4,477.5 317.2,476.4 321.2,475.6 326.8,473.7 333.2,474.0 338.0,475.6 341.2,477.2 338.0,478.8 335.6,480.4 339.6,482.0 344.4,482.8 347.6,483.6 353.9,486.5 361.9,490.0 368.3,492.4 374.7,494.0 379.5,496.4 382.7,501.2 385.9,504.4 389.1,506.0"/>
<path d="M319.6,487.6 322.0,490.0 326.0,489.2 324.4,486.8 320.4,486.5Z"/>
<path d="M387.6,483.2 382.0,480.8 375.6,479.2 369.2,476.8 362.8,473.6 356.4,471.2 350.0,468.8"/>
<path d="M350.0,488.0 356.4,490.4 364.4,492.8 372.4,494.4 378.8,496.0 382.0,500.8 384.4,503.9 388.4,507.1 393.2,509.5 398.0,511.5 402.8,515.1 407.6,516.4"/>
<path d="M392.4,444.0 389.2,451.2 393.2,456.0 397.2,450.4Z"/>
<path d="M413.9,444.8 417.1,448.8"/>
<path d="M420.3,450.4 422.7,452.8"/>
<path d="M424.3,454.4 428.3,460.8"/>
<path d="M438.7,461.6 440.3,464.0"/>
<path d="M410.0,440.8 413.1,444.0"/>
<path d="M426.7,511.9 433.1,514.3 439.5,516.7"/>
<path d="M87.0,509.0 88.3,513.0 92.7,517.0"/>
<path d="M600.8,119.9 602.6,123.0 606.9,124.3 613.1,122.4 619.3,120.6 625.5,121.2 631.7,119.9 639.1,119.3"/>
<path d="M632.3,129.8 634.1,131.7 639.1,129.2"/>
<path stroke-width="3.0" d="M353.9,130.4 359.7,135.6 365.5,140.3 371.3,143.9 377.1,146.8 382.6,149.0"/>
<path stroke-width="2.6" d="M413.9,444.8 417.1,448.8"/>
<path stroke-width="2.6" d="M420.3,450.4 422.7,452.8"/>
<path stroke-width="2.8" d="M424.3,454.4 428.3,460.8"/>
<path stroke-width="2.8" d="M438.7,461.6 440.3,464.0"/>
<path stroke-width="2.4" d="M410.0,440.8 413.1,444.0"/>
<path stroke-width="2.6" d="M383.2,421.0 386.9,423.1 392.7,422.4 397.0,421.7"/>
<path stroke-width="2.2" d="M397.0,418.8 401.4,420.2 404.3,424.6 405.0,429.0"/>
<path stroke-width="2.6" d="M429.9,244.5 428.1,249.2 426.4,253.3 427.6,255.0 424.7,257.3 425.8,260.8 422.9,263.1 425.2,264.9 422.3,267.2"/>
<path stroke-width="2.4" d="M432.2,245.1 431.0,249.8 432.2,254.4 431.6,259.1 434.0,263.7 435.7,267.2"/>
<path stroke-width="2.6" d="M249.1,349.3 253.1,347.3 261.1,351.3 259.1,355.3 255.1,357.3 258.1,365.3 262.1,367.3 261.1,361.3"/>
<circle cx="562.2" cy="344.9" r="1.3" fill="#000" stroke="none"/>
<path d="M599.8,177.2 H603" />

</g>
<g fill="none" stroke="#000" stroke-width="8.4" stroke-linejoin="round" stroke-linecap="round">
<path d="M113.1,388.0 L113.1,377.4 L115.1,365.3 L119.1,353.3 L125.1,343.3 L135.1,333.2 L147.2,324.2 L161.2,317.2 L175.2,312.2 L191.3,308.2 L207.3,306.8 L225.0,310.2 L235.0,315.2 L246.5,321.0 L257.1,316.5 L269.1,314.9 L285.2,316.6 L301.2,319.0 L313.2,322.4 L323.3,327.2 L332.3,327.4 L339.3,322.0 L349.3,310.6 L363.0,300.0 L371.0,293.4 L381.1,287.0 L387.0,283.6 L393.5,278.6 L395.8,269.3 L398.8,259.5 L402.3,250.0 L406.1,241.3 L411.1,231.3 L419.2,219.3 L425.5,207.2 L429.5,202.8 L436.8,196.9 L444.1,192.6 L451.3,189.7 L455.0,185.3 L458.6,178.0 L463.0,170.8 L468.8,164.2 L475.5,156.3 L483.7,150.8 L492.4,146.3 L499.7,141.9 L505.5,137.5 L512.8,134.6 L521.5,132.9 L530.2,132.4 L539.0,133.9 L547.7,137.3 L554.9,141.7 L561.5,147.5 L565.8,154.8 L568.0,162.1 L568.8,169.3 L567.3,178.0 L563.7,186.8 L557.8,195.5 L550.6,202.8 L545.5,206.0 L541.1,208.2 L538.1,211.3 L539.1,219.3 L538.1,229.3 L534.1,239.3 L527.1,247.4 L519.1,252.4 L511.0,257.0 L501.0,260.0 L491.4,261.0 L485.3,264.0 L479.3,273.1 L474.3,283.1 L475.3,293.1 L475.3,303.1 L472.3,315.2 L467.0,327.0 L460.0,334.2 L450.1,340.7 L438.5,347.2 L426.9,353.1 L415.2,358.9 L405.1,364.7 L400.3,369.2 L402.2,378.0 L404.3,388.1 L406.5,398.3 L408.0,408.5 L408.7,420.0 L407.6,431.0 L404.1,445.2 L397.1,459.2 L387.1,471.2 L375.0,480.3 L363.0,485.3 L353.4,486.3 L343.3,486.9 L331.3,485.3 L321.3,481.3 L312.2,474.2 L305.2,465.2 L301.2,455.2 L300.2,443.2 L302.2,431.1 L302.2,419.1 L298.2,409.6 L291.2,403.0 L285.2,400.0 L280.2,403.0 L271.1,407.1 L259.1,409.0 L247.1,408.1 L238.7,405.4 L231.4,402.4 L222.7,398.9 L215.4,394.2 L209.6,389.3 L203.8,386.4 L198.0,387.6 L192.2,389.3 L189.0,392.5 L185.6,399.2 L181.3,406.5 L174.7,413.8 L167.4,418.9 L158.7,422.3 L150.0,423.0 L139.1,420.1 L129.1,414.1 L120.1,405.0 L115.1,395.0Z"/>

</g>
</g>
<path d="M0,0 H688 V674 H0 Z M87,118.7 V517.2 H640 V118.7 Z" fill="#fff" fill-rule="evenodd"/>
<path d="M639.6,118.7 V516.8000000000001 H87" fill="none" stroke="#000" stroke-width="1.1"/>
<g text-anchor="middle" font-size="27.78">
<text x="362.9" y="32.4">Ensemble Mean</text>
<text x="362.9" y="64.7">Daily Mean Minimum MSLP</text>
<text x="362.9" y="96.8">2025-08-28 12z-12z</text>
</g>
<g font-size="27.78">
<rect x="95.3" y="466.8" width="93.4" height="44.4" rx="6.5" ry="6.5" fill="#fff" stroke="#000" stroke-width="1.3"/>
<text x="142" y="496.8" text-anchor="middle">Mean</text>
<rect x="388" y="466.8" width="249" height="44.4" rx="6.5" ry="6.5" fill="#fff" stroke="#000" stroke-width="1.3"/>
<text x="512.5" y="496.8" text-anchor="middle">Run: 2025-08-25</text>
<text x="176" y="539.7" text-anchor="middle">90°W</text>
<text x="320" y="539.7" text-anchor="middle">80°W</text>
<text x="460" y="539.7" text-anchor="middle">70°W</text>
<text x="602" y="539.7" text-anchor="middle">60°W</text>
<text transform="translate(78.5,151.8) rotate(23)" text-anchor="end">40°N</text>
<text transform="translate(78.8,229.4) rotate(21)" text-anchor="end">35°N</text>
<text transform="translate(78.8,305.7) rotate(20.3)" text-anchor="end">30°N</text>
<text transform="translate(79.0,382.6) rotate(19.2)" text-anchor="end">25°N</text>
<text transform="translate(80.1,460.3) rotate(17.3)" text-anchor="end">20°N</text>
</g>
<rect x="83.5" y="569.5" width="93.5" height="30.7" fill="#4393c3"/>
<rect x="176.7" y="569.5" width="93.5" height="30.7" fill="#92c5de"/>
<rect x="269.9" y="569.5" width="93.5" height="30.7" fill="#d1e5f0"/>
<rect x="363.2" y="569.5" width="93.5" height="30.7" fill="#f7f7f7"/>
<rect x="456.4" y="569.5" width="93.5" height="30.7" fill="#fddbc7"/>
<rect x="549.6" y="569.5" width="93.5" height="30.7" fill="#d6604d"/>
<polygon points="83.5,569.5 55.5,584.85 83.5,600.2" fill="#2166ac"/>
<polygon points="642.8199999999999,569.5 670.8199999999999,584.85 642.8199999999999,600.2" fill="#b2182b"/>
<polygon points="83.5,569.5 642.8199999999999,569.5 670.8199999999999,584.85 642.8199999999999,600.2 83.5,600.2 55.5,584.85" fill="none" stroke="#000" stroke-width="1.1" stroke-linejoin="miter"/>
<line x1="83.5" y1="600.2" x2="83.5" y2="604.6" stroke="#000" stroke-width="1.1"/>
<text x="83.5" y="632.7" font-size="27.78" text-anchor="middle">985</text>
<line x1="176.7" y1="600.2" x2="176.7" y2="604.6" stroke="#000" stroke-width="1.1"/>
<text x="176.7" y="632.7" font-size="27.78" text-anchor="middle">990</text>
<line x1="269.9" y1="600.2" x2="269.9" y2="604.6" stroke="#000" stroke-width="1.1"/>
<text x="269.9" y="632.7" font-size="27.78" text-anchor="middle">995</text>
<line x1="363.2" y1="600.2" x2="363.2" y2="604.6" stroke="#000" stroke-width="1.1"/>
<text x="363.2" y="632.7" font-size="27.78" text-anchor="middle">1000</text>
<line x1="456.4" y1="600.2" x2="456.4" y2="604.6" stroke="#000" stroke-width="1.1"/>
<text x="456.4" y="632.7" font-size="27.78" text-anchor="middle">1005</text>
<line x1="549.6" y1="600.2" x2="549.6" y2="604.6" stroke="#000" stroke-width="1.1"/>
<text x="549.6" y="632.7" font-size="27.78" text-anchor="middle">1010</text>
<line x1="642.8" y1="600.2" x2="642.8" y2="604.6" stroke="#000" stroke-width="1.1"/>
<text x="642.8" y="632.7" font-size="27.78" text-anchor="middle">1015</text>
<text x="363.5" y="660" font-size="20.83" text-anchor="middle">MSLP Daily Mean (mb)</text>

</svg>
</body></html>
